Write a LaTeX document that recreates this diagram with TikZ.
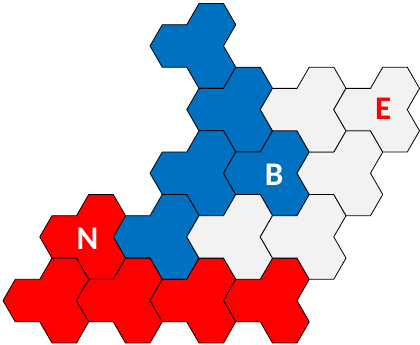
\documentclass[tikz,border=0pt]{standalone}
\usepackage{fontspec}
\setsansfont{Carlito}
\definecolor{tileblue}{HTML}{0070C0}
\definecolor{tilered}{HTML}{FF0000}
\definecolor{tilegrey}{HTML}{F2F2F2}
\begin{document}
\begin{tikzpicture}[x=24.5pt, y=24.5pt,
    trihex/.pic={
      \path[pic actions] (-2,0) -- (-1.5,-0.866) -- (-0.5,-0.866) -- (0,-1.732)
        -- (1,-1.732) -- (1.5,-0.866) -- (1,0) -- (1.5,0.866) -- (1,1.732)
        -- (0,1.732) -- (-0.5,0.866) -- (-1.5,0.866) -- cycle;},
    piece/.style={draw=black, line width=0.8pt, line join=miter},
    bluepiece/.style={piece, fill=tileblue},
    redpiece/.style={piece, fill=tilered},
    greypiece/.style={piece, fill=tilegrey},
    letter/.style={font=\sffamily\bfseries\fontsize{33}{40}\selectfont, inner sep=0pt}]
    \useasboundingbox (-1.1224,-13.898) rectangle (16.02,0.1429);

    % the pieces (placed at the point where their three hexagons meet)
    \foreach \i/\j in {4/2, 5/5, 4/8, 6/8, 3/11}
        \pic[bluepiece] at ({1.5*\i+1},{-0.866*\j}) {trihex};
    \foreach \i/\j in {1/11, 0/14, 2/14, 4/14, 6/14}
        \pic[redpiece] at ({1.5*\i+1},{-0.866*\j}) {trihex};
    \foreach \i/\j in {5/11, 7/11, 8/8, 7/5, 9/5}
        \pic[greypiece] at ({1.5*\i+1},{-0.866*\j}) {trihex};

    % the letters
    \node[letter, text=white] (n) at (2.45,-9.62) {N};
    \node[letter, text=white] (b) at (10.07,-7.0) {B};
    \node[letter, text=tilered] (e) at (14.52,-4.31) {E};
\end{tikzpicture}
\end{document}
